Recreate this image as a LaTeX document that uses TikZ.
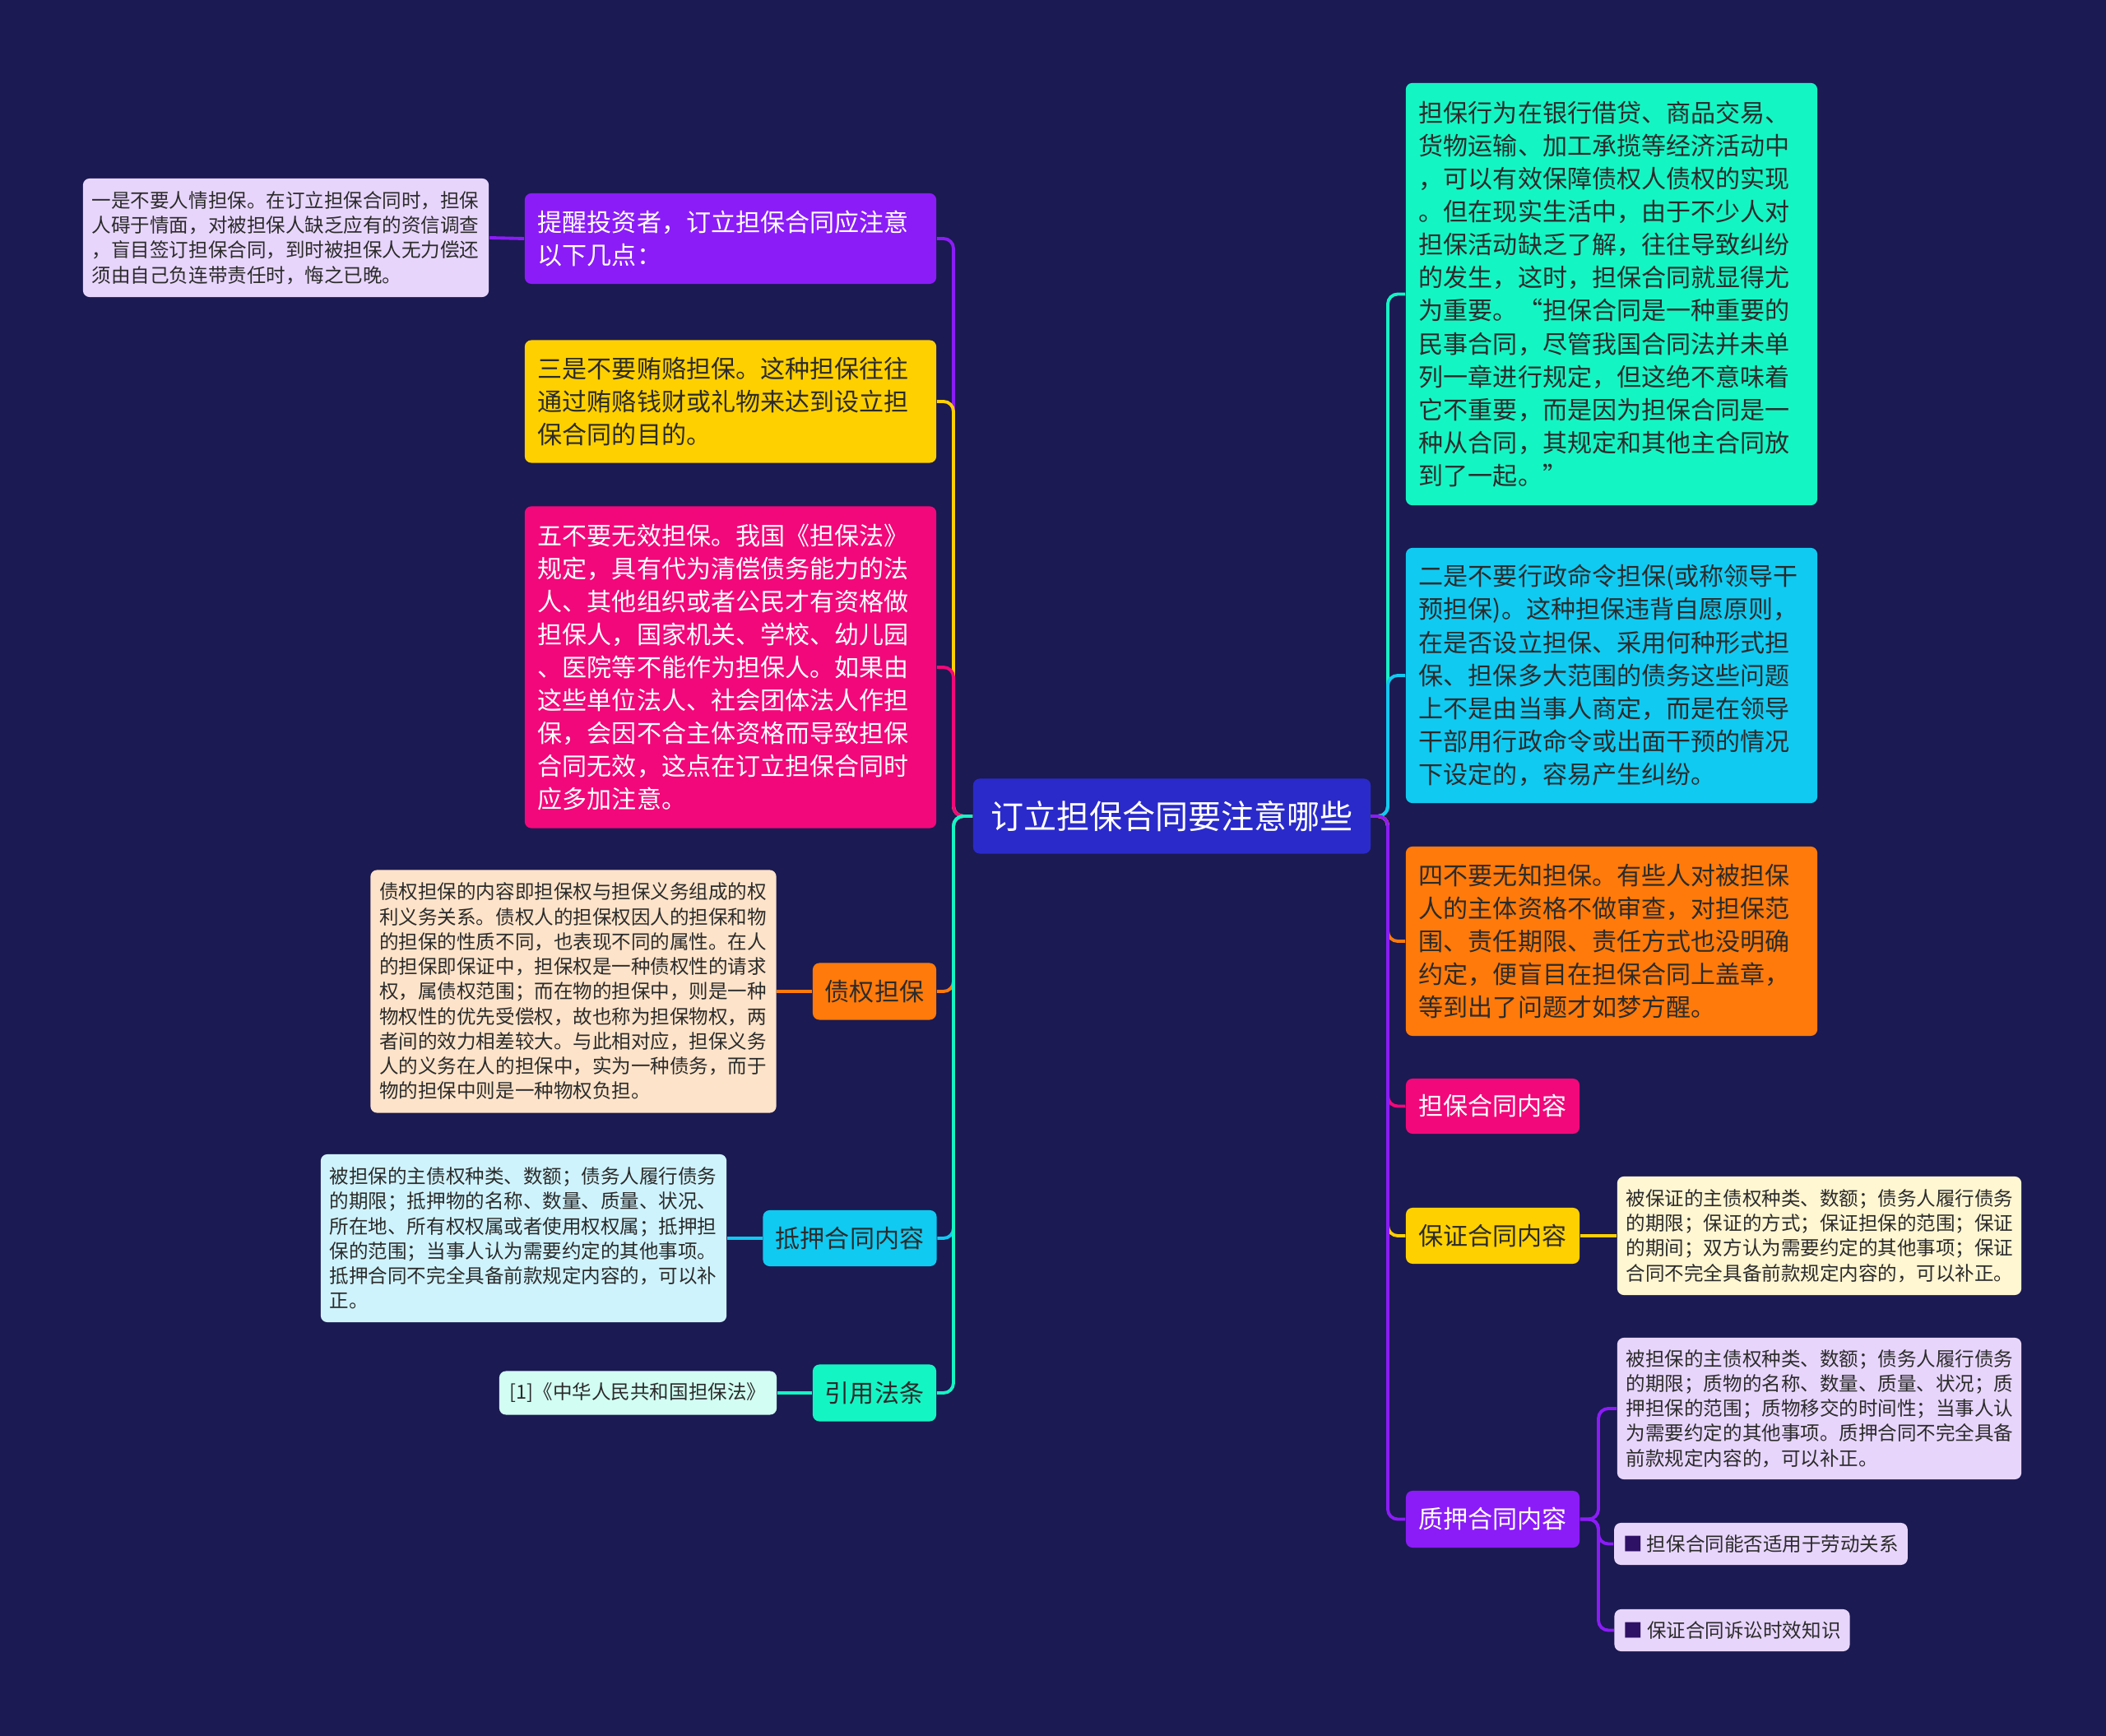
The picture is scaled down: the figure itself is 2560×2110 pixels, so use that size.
\documentclass[tikz,border=0pt]{standalone}
\usepackage{fontspec}
\newfontfamily\cjk{Noto Sans CJK SC}
\definecolor{bg}{HTML}{1B1A52}
\definecolor{cRoot}{HTML}{2A2ACB}
\definecolor{cPurple}{HTML}{8B1CF7}
\definecolor{cYellow}{HTML}{FFD000}
\definecolor{cPink}{HTML}{F2087A}
\definecolor{cOrange}{HTML}{FF7A0A}
\definecolor{cCyan}{HTML}{10CAF2}
\definecolor{cGreen}{HTML}{14F5C4}
\definecolor{lLav}{HTML}{E8D5FC}
\definecolor{lBeige}{HTML}{FDE3C9}
\definecolor{lCyan}{HTML}{CFF3FC}
\definecolor{lGreen}{HTML}{D2FDF2}
\definecolor{lCream}{HTML}{FFF6D2}
\definecolor{dtext}{HTML}{2B2B2B}
\definecolor{bullet}{HTML}{2E1065}
\newcommand\fA{\fontsize{8.54}{11.4}\selectfont}
\newcommand\fS{\fontsize{6.69}{8.6}\selectfont}
\newcommand\fR{\fontsize{11.4}{14}\selectfont}
\tikzset{
  bx/.style={rounded corners=0.08cm, inner xsep=0.16cm, inner ysep=0pt, align=left, font=\cjk\fA},
  lf/.style={rounded corners=0.08cm, inner xsep=0.11cm, inner ysep=0pt, align=left, font=\cjk\fS, text=dtext},
  lb/.style={rounded corners=0.08cm, inner sep=0pt, align=center, font=\cjk\fA},
  conn/.style={line width=1.1pt, rounded corners=0.12cm},
}
\begin{document}
\begin{tikzpicture}[x=0.01cm,y=-0.01cm]
\fill[bg] (0,0) rectangle (2560,2110);
\useasboundingbox (0,0) rectangle (2560,2110);

% root
\node[lb, fill=cRoot, text=white, font=\cjk\fR, minimum width=4.83cm, minimum height=0.91cm] (root) at (1424.5,992) {订立担保合同要注意哪些};
\coordinate (lt) at (1159,992);
\coordinate (rt) at (1687,992);

% left main children
\node[bx, fill=cPurple, text=white, text width=4.68cm, minimum height=1.10cm] (p1) at (888,290)
 {提醒投资者，订立担保合同应注意\\以下几点：};
\node[bx, fill=cYellow, text=dtext, text width=4.68cm, minimum height=1.49cm] (y1) at (888,488)
 {三是不要贿赂担保。这种担保往往\\通过贿赂钱财或礼物来达到设立担\\保合同的目的。};
\node[bx, fill=cPink, text=white, text width=4.68cm, minimum height=3.91cm] (k1) at (888,811)
 {五不要无效担保。我国《担保法》\\规定，具有代为清偿债务能力的法\\人、其他组织或者公民才有资格做\\担保人，国家机关、学校、幼儿园\\、医院等不能作为担保人。如果由\\这些单位法人、社会团体法人作担\\保，会因不合主体资格而导致担保\\合同无效，这点在订立担保合同时\\应多加注意。};
\node[lb, fill=cOrange, text=dtext, minimum width=1.50cm, minimum height=0.69cm] (o1) at (1063,1205) {债权担保};
\node[lb, fill=cCyan, text=dtext, minimum width=2.11cm, minimum height=0.68cm] (c1) at (1033,1505) {抵押合同内容};
\node[lb, fill=cGreen, text=dtext, minimum width=1.50cm, minimum height=0.69cm] (g1) at (1063,1693) {引用法条};

% left leaves
\node[lf, fill=lLav, text width=4.71cm, minimum height=1.44cm] (L1) at (347.5,289)
 {一是不要人情担保。在订立担保合同时，担保\\人碍于情面，对被担保人缺乏应有的资信调查\\，盲目签订担保合同，到时被担保人无力偿还\\须由自己负连带责任时，悔之已晚。};
\node[lf, fill=lBeige, text width=4.71cm, minimum height=2.95cm] (Lb) at (697,1205)
 {债权担保的内容即担保权与担保义务组成的权\\利义务关系。债权人的担保权因人的担保和物\\的担保的性质不同，也表现不同的属性。在人\\的担保即保证中，担保权是一种债权性的请求\\权，属债权范围；而在物的担保中，则是一种\\物权性的优先受偿权，故也称为担保物权，两\\者间的效力相差较大。与此相对应，担保义务\\人的义务在人的担保中，实为一种债务，而于\\物的担保中则是一种物权负担。};
\node[lf, fill=lCyan, text width=4.71cm, minimum height=2.04cm] (Lc) at (636.5,1505)
 {被担保的主债权种类、数额；债务人履行债务\\的期限；抵押物的名称、数量、质量、状况、\\所在地、所有权权属或者使用权权属；抵押担\\保的范围；当事人认为需要约定的其他事项。\\抵押合同不完全具备前款规定内容的，可以补\\正。};
\node[lf, fill=lGreen, align=center, minimum width=3.37cm, minimum height=0.53cm] (Lg) at (775.5,1693)
 {[1]《中华人民共和国担保法》};

% right main children
\node[bx, fill=cGreen, text=dtext, text width=4.68cm, minimum height=5.13cm] (rg) at (1959,357.5)
 {担保行为在银行借贷、商品交易、\\货物运输、加工承揽等经济活动中\\，可以有效保障债权人债权的实现\\。但在现实生活中，由于不少人对\\担保活动缺乏了解，往往导致纠纷\\的发生，这时，担保合同就显得尤\\为重要。“担保合同是一种重要的\\民事合同，尽管我国合同法并未单\\列一章进行规定，但这绝不意味着\\它不重要，而是因为担保合同是一\\种从合同，其规定和其他主合同放\\到了一起。”};
\node[bx, fill=cCyan, text=dtext, text width=4.68cm, minimum height=3.10cm] (rc) at (1959,821)
 {二是不要行政命令担保(或称领导干\\预担保)。这种担保违背自愿原则，\\在是否设立担保、采用何种形式担\\保、担保多大范围的债务这些问题\\上不是由当事人商定，而是在领导\\干部用行政命令或出面干预的情况\\下设定的，容易产生纠纷。};
\node[bx, fill=cOrange, text=dtext, text width=4.68cm, minimum height=2.30cm] (ro) at (1959,1144)
 {四不要无知担保。有些人对被担保\\人的主体资格不做审查，对担保范\\围、责任期限、责任方式也没明确\\约定，便盲目在担保合同上盖章，\\等到出了问题才如梦方醒。};
\node[lb, fill=cPink, text=white, minimum width=2.11cm, minimum height=0.67cm] (rk) at (1814.5,1344.5) {担保合同内容};
\node[lb, fill=cYellow, text=dtext, minimum width=2.11cm, minimum height=0.68cm] (ry) at (1814.5,1502) {保证合同内容};
\node[lb, fill=cPurple, text=white, minimum width=2.11cm, minimum height=0.69cm] (rp) at (1814.5,1846.5) {质押合同内容};

% right leaves
\node[lf, fill=lCream, text width=4.69cm, minimum height=1.44cm] (Ly) at (2211.5,1502)
 {被保证的主债权种类、数额；债务人履行债务\\的期限；保证的方式；保证担保的范围；保证\\的期间；双方认为需要约定的其他事项；保证\\合同不完全具备前款规定内容的，可以补正。};
\node[lf, fill=lLav, text width=4.69cm, minimum height=1.72cm] (Lp) at (2211.5,1712)
 {被担保的主债权种类、数额；债务人履行债务\\的期限；质物的名称、数量、质量、状况；质\\押担保的范围；质物移交的时间性；当事人认\\为需要约定的其他事项。质押合同不完全具备\\前款规定内容的，可以补正。};
\node[lf, fill=lLav, align=center, minimum width=3.49cm, minimum height=0.51cm] (Lq1) at (2140.5,1876.5)
 {{\color{bullet}■} 担保合同能否适用于劳动关系};
\node[lf, fill=lLav, align=center, minimum width=2.79cm, minimum height=0.51cm] (Lq2) at (2105.5,1981.5)
 {{\color{bullet}■} 保证合同诉讼时效知识};
\coordinate (st) at (1943,1846.5);

% connectors: root -> left children
\draw[conn, cPurple] (root.west) -- (lt) |- (p1.east);
\draw[conn, cYellow] (root.west) -- (lt) |- (y1.east);
\draw[conn, cPink] (root.west) -- (lt) |- (k1.east);
\draw[conn, cOrange] (root.west) -- (lt) |- (o1.east);
\draw[conn, cCyan] (root.west) -- (lt) |- (c1.east);
\draw[conn, cGreen] (root.west) -- (lt) |- (g1.east);
% root -> right children
\draw[conn, cGreen] (root.east) -- (rt) |- (rg.west);
\draw[conn, cCyan] (root.east) -- (rt) |- (rc.west);
\draw[conn, cOrange] (root.east) -- (rt) |- (ro.west);
\draw[conn, cPink] (root.east) -- (rt) |- (rk.west);
\draw[conn, cYellow] (root.east) -- (rt) |- (ry.west);
\draw[conn, cPurple] (root.east) -- (rt) |- (rp.west);
% children -> leaves
\draw[conn, cPurple] (p1.west) -- (L1.east);
\draw[conn, cOrange] (o1.west) -- (Lb.east);
\draw[conn, cCyan] (c1.west) -- (Lc.east);
\draw[conn, cGreen] (g1.west) -- (Lg.east);
\draw[conn, cYellow] (ry.east) -- (Ly.west);
\draw[conn, cPurple] (rp.east) -- (st) |- (Lp.west);
\draw[conn, cPurple] (rp.east) -- (st) |- (Lq1.west);
\draw[conn, cPurple] (rp.east) -- (st) |- (Lq2.west);
\end{tikzpicture}
\end{document}
